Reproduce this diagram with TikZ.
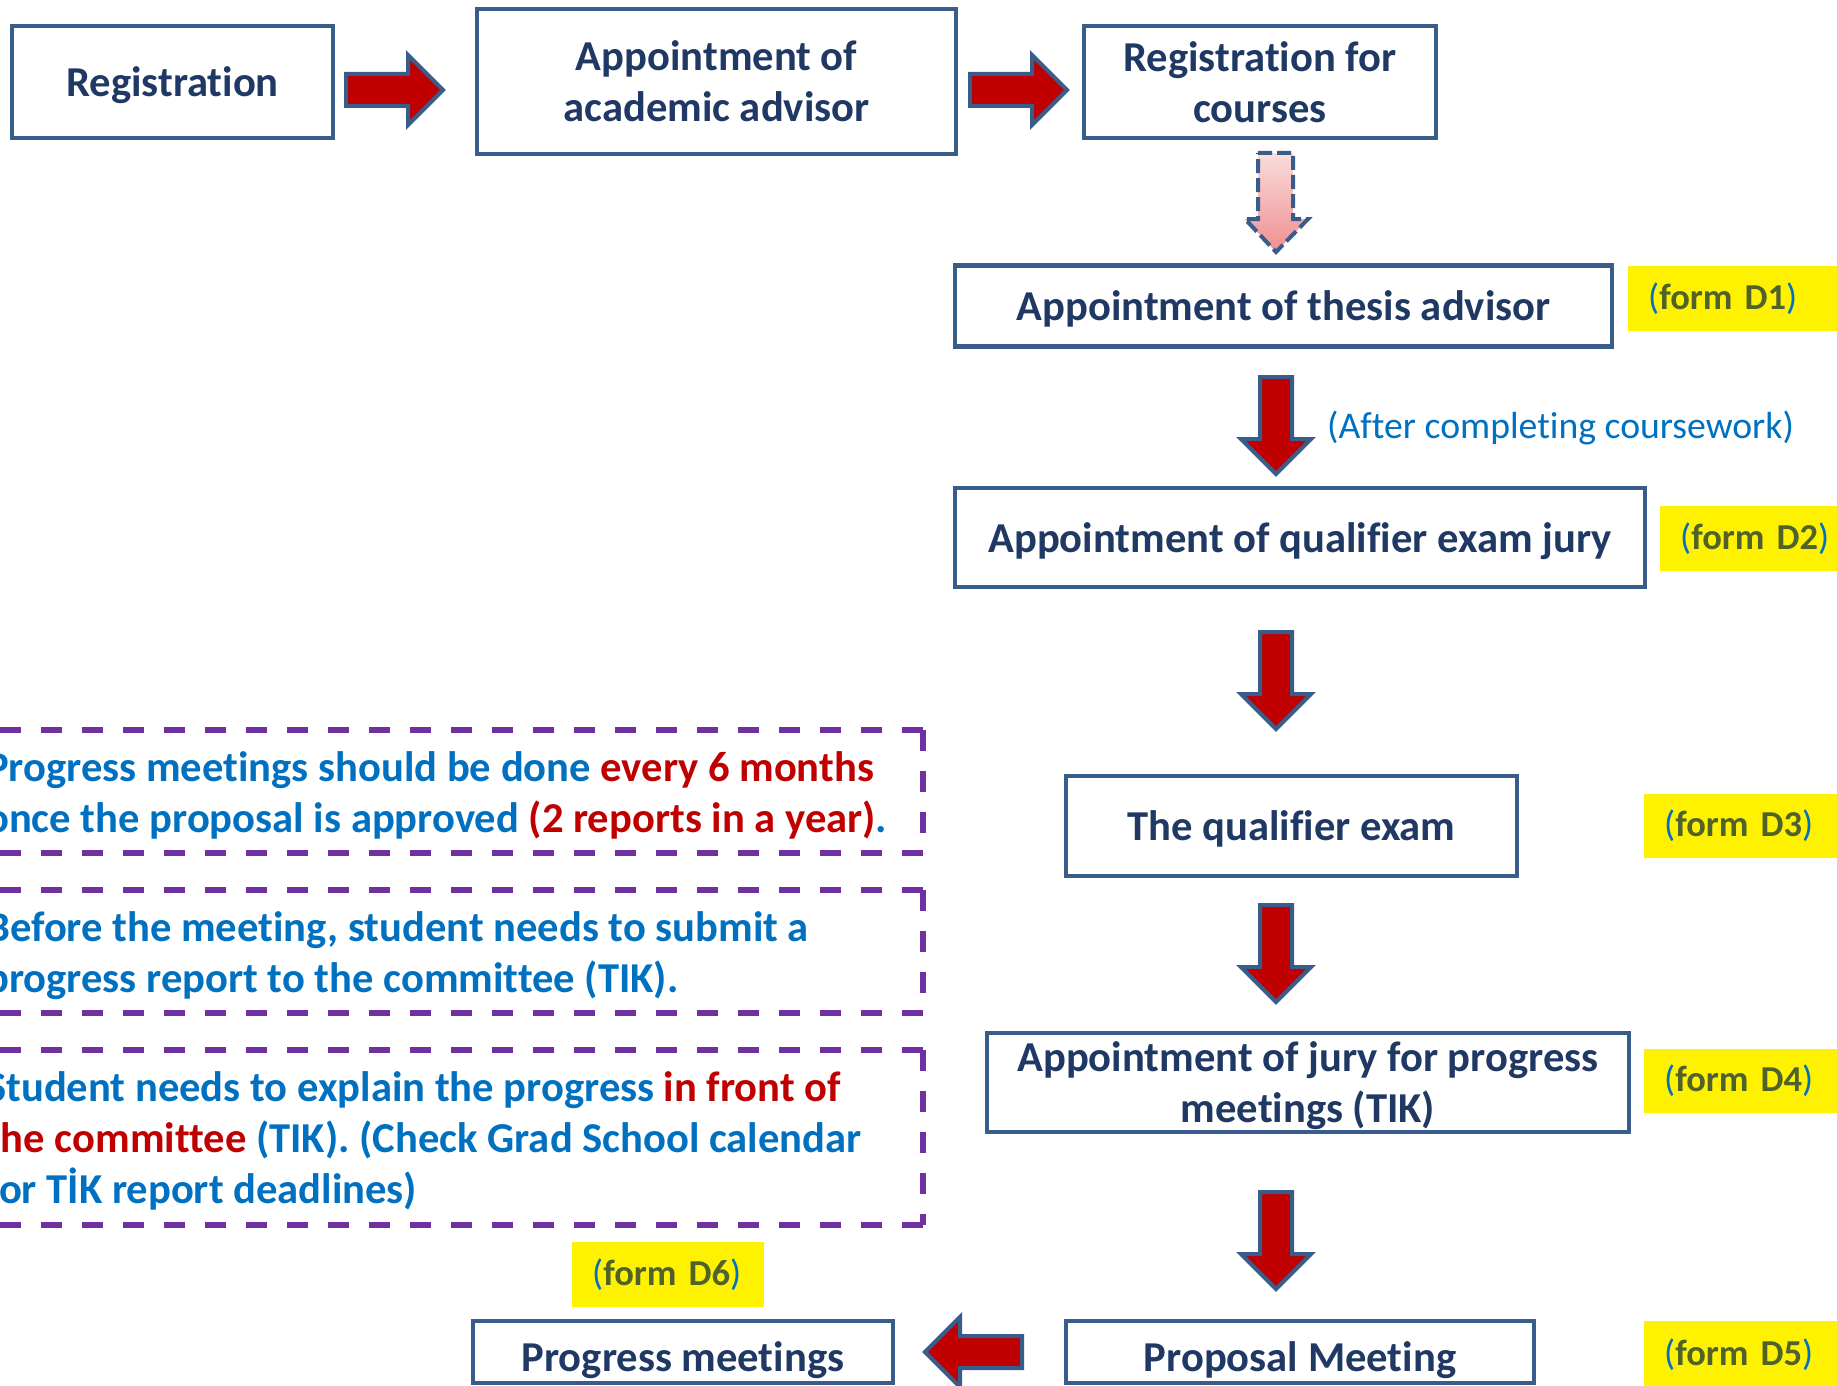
\documentclass[tikz,border=0pt]{standalone}
\usepackage{fontspec}
\setmainfont{Carlito}[Ligatures={NoCommon}]
\definecolor{navy}{HTML}{1F3864}
\definecolor{bordercol}{HTML}{385D8A}
\definecolor{arrowred}{HTML}{C00000}
\definecolor{purp}{HTML}{7030A0}
\definecolor{tblue}{HTML}{0070C0}
\definecolor{tred}{HTML}{C00000}
\definecolor{formolive}{HTML}{4F6228}
\definecolor{pinktop}{HTML}{FADCDC}
\definecolor{pinkbot}{HTML}{EF8F8F}
\newcommand\boxfont{\fontsize{42.6}{51}\selectfont\bfseries}
\newcommand\formfont{\fontsize{36.5}{43}\selectfont}
\newcommand\notefont{\fontsize{42.6}{51}\selectfont\bfseries}
\newcommand\fm[1]{\textcolor{tblue}{\mdseries(}\textbf{#1}\textcolor{tblue}{\mdseries)}}
\newcommand\tr[1]{\textcolor{tred}{#1}}
\begin{document}
\begin{tikzpicture}[x=1pt,y=-1pt,
  box/.style={draw=bordercol, line width=4.5pt, fill=white, inner sep=0pt,
    font=\boxfont, text=navy, align=center, text depth=0pt},
  blockarr/.pic={\path[pic actions] (0,0) -- (-35,35) -- (-35,16) -- (-97,16)
    -- (-97,-16) -- (-35,-16) -- (-35,-35) -- cycle;},
  arrowlook/.style={draw=bordercol, line width=4pt, fill=arrowred},
  form/.style={fill=yellow, inner xsep=20pt, inner ysep=0pt, align=left,
    font=\formfont, text=formolive, anchor=west},
  notebox/.style={draw=purp, line width=5.5pt, dash pattern=on 21pt off 20pt},
  noteline/.style={anchor=base west, inner sep=0pt, font=\notefont, text=tblue}
]
\useasboundingbox (0,0) rectangle (1837,1386);
\clip (0,0) rectangle (1837,1386);
\fill[white] (0,0) rectangle (1837,1386);

% main boxes
\node[box, minimum width=321pt, minimum height=112pt] (reg) at (172.5,82) {Registration};
\node[box, minimum width=479pt, minimum height=145pt] (acad) at (716.5,81.5) {Appointment of\\academic advisor};
\node[box, minimum width=352pt, minimum height=112pt] (courses) at (1260,82) {Registration for\\courses};
\node[box, minimum width=657pt, minimum height=81pt] (thesis) at (1283.5,306) {Appointment of thesis advisor};
\node[box, minimum width=690pt, minimum height=99pt] (jury) at (1300,537.5) {Appointment of qualifier exam jury};
\node[box, minimum width=451pt, minimum height=100pt] (qual) at (1291.5,826) {The qualifier exam};
\node[box, minimum width=642pt, minimum height=99pt] (juryp) at (1308,1082.5) {Appointment of jury for progress\\meetings (TIK)};
\node[box, minimum width=468pt, minimum height=62pt] (proposal) at (1300,1352) {};
\node[box, minimum width=420pt, minimum height=62pt] (progress) at (683,1352) {};
\node[box, draw=none, fill=none] (proposaltext) at ([yshift=-5pt]proposal.center) {Proposal Meeting};
\node[box, draw=none, fill=none] (progresstext) at ([yshift=-5pt]progress.center) {Progress meetings};

% block arrows (tip placed at the given point)
\pic[arrowlook] (a1) at (443,90) {blockarr};
\pic[arrowlook] (a2) at (1067,90) {blockarr};
\pic[arrowlook, rotate=-90] (a3) at (1276,474) {blockarr};
\pic[arrowlook, rotate=-90] (a4) at (1276,729) {blockarr};
\pic[arrowlook, rotate=-90] (a5) at (1276,1002) {blockarr};
\pic[arrowlook, rotate=-90] (a6) at (1276,1289) {blockarr};
\pic[arrowlook, rotate=180] (a7) at (925,1352) {blockarr};

% dashed gradient arrow
\path[top color=pinktop, bottom color=pinkbot, draw=bordercol, line width=4pt,
  dash pattern=on 14pt off 5pt]
  (1258,153) -- (1293,153) -- (1293,219) -- (1308,219) -- (1276,252)
  -- (1245,219) -- (1258,219) -- cycle;

% forms
\node[form, text width=170pt, minimum height=65pt] (d1) at (1628,298.5) {\fm{form D1}};
\node[form, text width=170pt, minimum height=65pt] (d2) at (1660,538.5) {\fm{form D2}};
\node[form, text width=170pt, minimum height=64pt] (d3) at (1644,826) {\fm{form D3}};
\node[form, text width=170pt, minimum height=64pt] (d4) at (1644,1081) {\fm{form D4}};
\node[form, text width=170pt, minimum height=68pt] (d5) at (1644,1355) {\fm{form D5}};
\node[form, text width=152pt, minimum height=65pt] (d6) at (572,1274.5) {\fm{form D6}};

\node[anchor=west, inner sep=0pt, font=\fontsize{37.7}{45}\selectfont, text=tblue] (after) at (1327,428) {(After completing coursework)};

% note boxes
\draw[notebox] (923,730) -- (-20,730) (923,853) -- (-20,853) (923,730) -- (923,853);
\draw[notebox] (923,890) -- (-20,890) (923,1013) -- (-20,1013) (923,890) -- (923,1013);
\draw[notebox] (923,1050) -- (-20,1050) (923,1225) -- (-20,1225) (923,1050) -- (923,1225);

\node[noteline] (n1a) at (-14,781) {Progress meetings should be done \tr{every 6 months}};
\node[noteline] (n1b) at (-14,832) {once the proposal is approved \tr{(2 reports in a year)}.};
\node[noteline] (n2a) at (-14,941) {Before the meeting, student needs to submit a};
\node[noteline] (n2b) at (-14,992) {progress report to the committee (TIK).};
\node[noteline] (n3a) at (-14,1101) {Student needs to explain the progress \tr{in front of}};
\node[noteline] (n3b) at (-14,1152) {\tr{the committee} (TIK). (Check Grad School calendar};
\node[noteline] (n3c) at (-14,1203) {for TİK report deadlines)};
\end{tikzpicture}
\end{document}
